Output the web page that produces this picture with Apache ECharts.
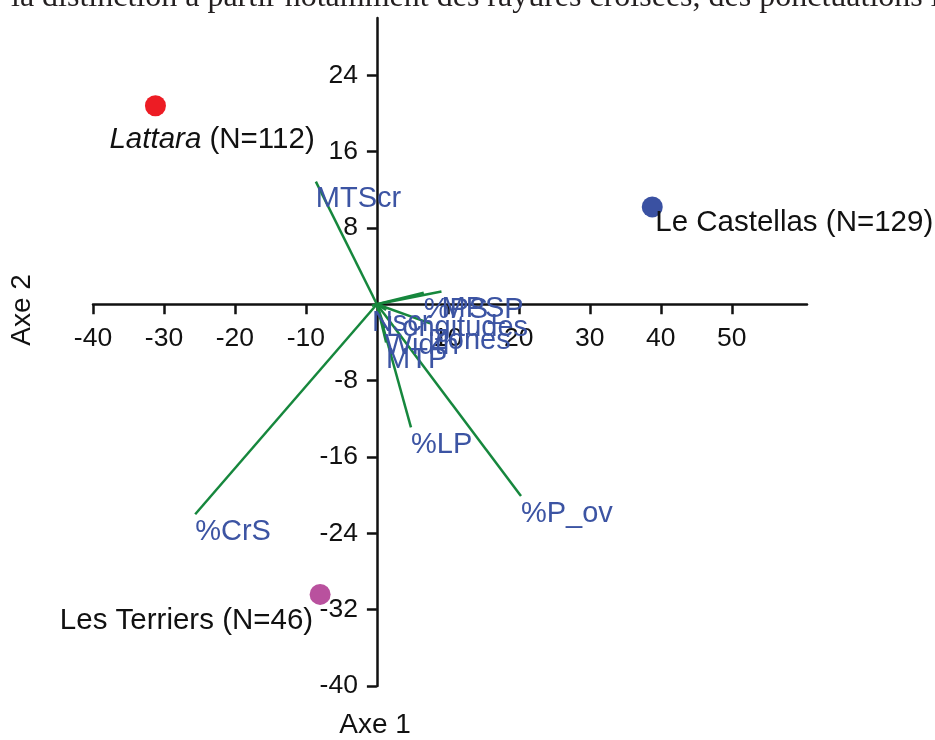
<!DOCTYPE html>
<html>
<head>
<meta charset="utf-8">
<script src="https://cdn.jsdelivr.net/npm/echarts@6/dist/echarts.min.js"></script>
<style>
  html, body { margin: 0; padding: 0; background: #ffffff; }
  #chart { width: 935px; height: 740px; }
</style>
</head>
<body>
<div id="chart"></div>
<script>
// Sites (row points) of the correspondence analysis
const sites = ['Lattara', 'Le Castellas', 'Les Terriers'];
const siteCounts = [112, 129, 46];
const siteAxe1 = [-31.2, 38.8, -8.0];
const siteAxe2 = [20.8, 10.2, -30.4];

// Microwear variables (column vectors drawn from the origin)
const variables = ['MTScr', '%CrS', '%LP', '%P_ov', '%PS_P', 'MPS', 'Nscr', 'Longitudes', 'Zones', 'Width', 'MTP'];
const varAxe1 = [-8.6, -25.6, 4.8, 20.3, 6.6, 9.1, -0.7, 1.3, 7.5, 1.1, 1.3];
const varAxe2 = [12.85, -22.0, -12.9, -20.1, 1.2, 1.35, -0.15, -0.6, -2.0, -2.5, -4.0];

// Tick labels shown on each axis (0 is left unlabeled at the crossing)
const xTicks = [-40, -30, -20, -10, 10, 20, 30, 40, 50];
const yTicks = [-40, -32, -24, -16, -8, 8, 16, 24];

// Header line of the surrounding page text
const headerText = 'la distinction à partir notamment des rayures croisées, des ponctuations larges';

const SANS = '"Liberation Sans", Arial, Helvetica, sans-serif';
const GREEN = '#16873d';
const LABEL_BLUE = '#3c54a3';
const INK = '#111111';

// Plot frame and value ranges
const W = 935, H = 740;
const GRID = { left: 93, right: 128, top: 18, bottom: 54 };
const X_RANGE = [-40, 60.6];
const Y_RANGE = [-40, 30];

// Shift both axes so they cross at the origin, labels included
const gridW = W - GRID.left - GRID.right;
const gridH = H - GRID.top - GRID.bottom;
const yAxisShift = (0 - X_RANGE[0]) / (X_RANGE[1] - X_RANGE[0]) * gridW;
const xAxisShift = (0 - Y_RANGE[0]) / (Y_RANGE[1] - Y_RANGE[0]) * gridH;

const siteStyle = {
  'Lattara':      { color: '#ed1c24', align: 'left',  offset: [-46, 34], italic: true },
  'Le Castellas': { color: '#3a51a2', align: 'left',  offset: [3, 16],   italic: false },
  'Les Terriers': { color: '#b9519e', align: 'right', offset: [-7, 26],  italic: false }
};

const siteData = sites.map((name, i) => {
  const st = siteStyle[name];
  const tail = ' (N=' + siteCounts[i] + ')';
  return {
    name: name,
    value: [siteAxe1[i], siteAxe2[i]],
    itemStyle: { color: st.color, opacity: 1 },
    label: {
      show: true,
      position: 'inside',
      align: st.align,
      verticalAlign: 'middle',
      offset: st.offset,
      formatter: st.italic ? '{i|' + name + '}{n|' + tail + '}' : '{n|' + name + tail + '}',
      rich: {
        i: { fontFamily: SANS, fontSize: 29.5, fontStyle: 'italic', color: INK },
        n: { fontFamily: SANS, fontSize: 29.5, color: INK }
      }
    }
  };
});

const vectorLines = variables.map((name, i) => ({
  name: name,
  coords: [[0, 0], [varAxe1[i], varAxe2[i]]]
}));

const vectorTips = variables.map((name, i) => ({
  name: name,
  value: [varAxe1[i], varAxe2[i]]
}));

const chart = echarts.init(document.getElementById('chart'), null, { renderer: 'canvas' });

chart.setOption({
  animation: false,
  backgroundColor: '#ffffff',
  grid: { left: GRID.left, right: GRID.right, top: GRID.top, bottom: GRID.bottom, containLabel: false },
  xAxis: {
    type: 'value',
    min: X_RANGE[0],
    max: X_RANGE[1],
    interval: 10,
    position: 'bottom',
    offset: -xAxisShift,
    splitLine: { show: false },
    axisLine: { onZero: false, lineStyle: { color: INK, width: 2.5 } },
    axisTick: { show: true, length: 10, inside: false, customValues: xTicks, lineStyle: { color: INK, width: 2.5 } },
    axisLabel: { customValues: xTicks, margin: 21, fontFamily: SANS, fontSize: 26.5, color: INK }
  },
  yAxis: {
    type: 'value',
    min: Y_RANGE[0],
    max: Y_RANGE[1],
    interval: 8,
    position: 'left',
    offset: -yAxisShift,
    splitLine: { show: false },
    axisLine: { onZero: false, lineStyle: { color: INK, width: 2.5 } },
    axisTick: { show: true, length: 10, inside: false, customValues: yTicks, lineStyle: { color: INK, width: 2.5 } },
    axisLabel: { customValues: yTicks, margin: 19, fontFamily: SANS, fontSize: 26.5, color: INK }
  },
  graphic: [
    {
      type: 'text',
      x: 11, y: -2,
      style: { text: headerText, font: '32px "Liberation Serif", "Times New Roman", serif', fill: '#231f20', verticalAlign: 'middle' }
    },
    {
      type: 'text',
      x: 375, y: 725,
      style: { text: 'Axe 1', font: '28px ' + SANS, fill: INK, align: 'center', verticalAlign: 'middle' }
    },
    {
      type: 'text',
      x: 22, y: 310,
      rotation: Math.PI / 2,
      style: { text: 'Axe 2', font: '28px ' + SANS, fill: INK, align: 'center', verticalAlign: 'middle' }
    }
  ],
  series: [
    {
      type: 'lines',
      coordinateSystem: 'cartesian2d',
      polyline: false,
      symbol: 'none',
      lineStyle: { color: GREEN, width: 2.5, opacity: 1 },
      data: vectorLines,
      z: 2
    },
    {
      type: 'scatter',
      symbolSize: 0,
      data: vectorTips,
      itemStyle: { opacity: 1 },
      label: {
        show: true,
        position: [0, 3],
        align: 'left',
        verticalAlign: 'top',
        formatter: '{b}',
        fontFamily: SANS,
        fontSize: 29,
        color: LABEL_BLUE
      },
      z: 3
    },
    {
      type: 'scatter',
      symbol: 'circle',
      symbolSize: 21,
      itemStyle: { opacity: 1 },
      data: siteData,
      z: 4
    }
  ]
});
</script>
</body>
</html>
